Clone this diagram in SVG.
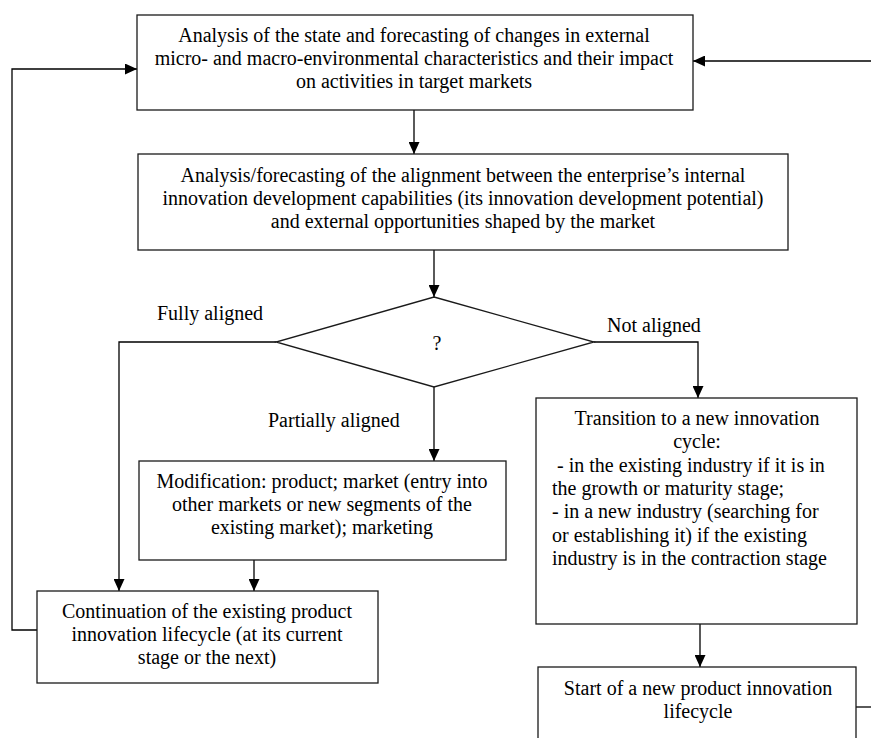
<svg xmlns="http://www.w3.org/2000/svg" width="871" height="738" viewBox="0 0 871 738">
<defs>
<marker id="ah" viewBox="0 0 12 11" refX="12" refY="5.5" markerWidth="12" markerHeight="11" markerUnits="userSpaceOnUse" orient="auto">
<path d="M0,0 L12,5.5 L0,11 z" fill="#000"/>
</marker>
<style>
.box{fill:#fff;stroke:#1a1a1a;stroke-width:1.3}
.t{font-size:20px;fill:#000}
.c{text-anchor:middle}
.ln{fill:none;stroke:#000;stroke-width:1.3}
</style>
</defs>
<rect width="871" height="738" fill="#fff"/>
<g id="connectors">
<path class="ln" d="M37,630 H12 V69 H137" marker-end="url(#ah)"/>
<path class="ln" d="M871,61 H693" marker-end="url(#ah)"/>
<path class="ln" d="M414,110 V154" marker-end="url(#ah)"/>
<path class="ln" d="M434,250 V297" marker-end="url(#ah)"/>
<path class="ln" d="M276,342 H119 V591" marker-end="url(#ah)"/>
<path class="ln" d="M594,342 H698 V398" marker-end="url(#ah)"/>
<path class="ln" d="M434,387 V461" marker-end="url(#ah)"/>
<path class="ln" d="M254,560 V591" marker-end="url(#ah)"/>
<path class="ln" d="M700,624 V667" marker-end="url(#ah)"/>
<path class="ln" d="M856,707 H871"/>
</g>
<g font-family="Liberation Serif, Times New Roman, serif">
<g id="n1">
<rect class="box" x="137" y="15" width="556" height="95"/>
<text class="t c" x="414" y="42">Analysis of the state and forecasting of changes in external</text>
<text class="t c" x="414" y="65">micro- and macro-environmental characteristics and their impact</text>
<text class="t c" x="414" y="88">on activities in target markets</text>
</g>
<g id="n2">
<rect class="box" x="138" y="154" width="650" height="96"/>
<text class="t c" x="463" y="182">Analysis/forecasting of the alignment between the enterprise’s internal</text>
<text class="t c" x="463" y="205">innovation development capabilities (its innovation development potential)</text>
<text class="t c" x="463" y="228">and external opportunities shaped by the market</text>
</g>
<g id="n3">
<path class="box" d="M434,297 L594,342 L434,387 L276,342 Z"/>
<text class="t c" x="437" y="350">?</text>
</g>
<g id="labels">
<text class="t" x="157" y="320">Fully aligned</text>
<text class="t" x="607" y="332">Not aligned</text>
<text class="t" x="268" y="427">Partially aligned</text>
</g>
<g id="n4">
<rect class="box" x="139" y="461" width="367" height="99"/>
<text class="t c" x="322" y="488">Modification: product; market (entry into</text>
<text class="t c" x="322" y="511">other markets or new segments of the</text>
<text class="t c" x="322" y="534">existing market); marketing</text>
</g>
<g id="n5">
<rect class="box" x="37" y="591" width="341" height="92"/>
<text class="t c" x="207" y="618">Continuation of the existing product</text>
<text class="t c" x="207" y="641">innovation lifecycle (at its current</text>
<text class="t c" x="207" y="664">stage or the next)</text>
</g>
<g id="n6">
<rect class="box" x="536" y="398" width="321" height="226"/>
<text class="t c" x="697" y="425">Transition to a new innovation</text>
<text class="t c" x="697" y="448">cycle:</text>
<text class="t" x="557" y="472">- in the existing industry if it is in</text>
<text class="t" x="552" y="495">the growth or maturity stage;</text>
<text class="t" x="552" y="518">- in a new industry (searching for</text>
<text class="t" x="552" y="542">or establishing it) if the existing</text>
<text class="t" x="552" y="565">industry is in the contraction stage</text>
</g>
<g id="n7">
<rect class="box" x="538" y="667" width="318" height="80"/>
<text class="t c" x="698" y="695">Start of a new product innovation</text>
<text class="t c" x="698" y="718">lifecycle</text>
</g>
</g>
</svg>
